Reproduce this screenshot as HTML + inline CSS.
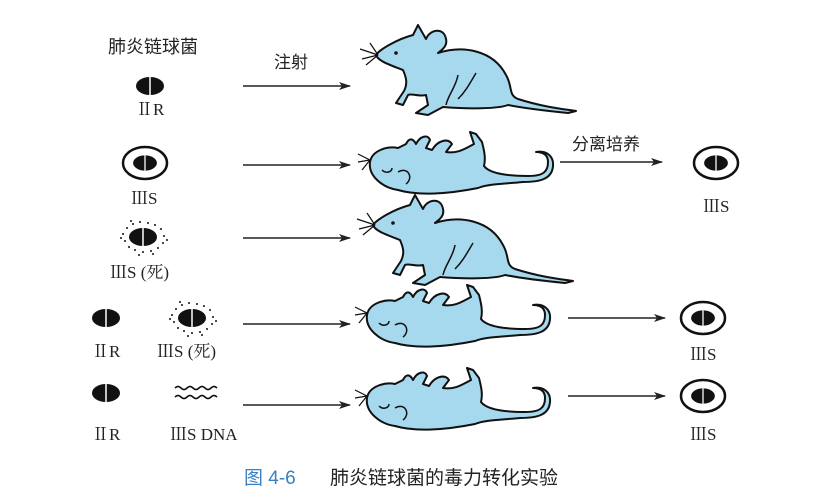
<!DOCTYPE html>
<html><head><meta charset="utf-8"><style>
html,body{margin:0;padding:0;background:#fff;width:820px;height:497px;overflow:hidden}
text{font-family:"Liberation Serif","Noto Serif CJK SC",serif;fill:#222}
.cn{font-family:"Liberation Sans","Noto Sans CJK SC",sans-serif}
</style></head><body>
<svg width="820" height="497" viewBox="0 0 820 497" xmlns="http://www.w3.org/2000/svg">
<defs>
<marker id="ah" markerWidth="12" markerHeight="8" refX="11" refY="4" orient="auto" markerUnits="userSpaceOnUse">
<path d="M0,0 L12,4 L0,8 L3,4 Z" fill="#222"/></marker>
<g id="bac"><ellipse cx="0" cy="0" rx="14" ry="9" fill="#111"/><line x1="0" y1="-9" x2="0" y2="9" stroke="#fff" stroke-width="1.5"/></g>
<g id="cap"><ellipse cx="0" cy="0" rx="22" ry="16" fill="#fff" stroke="#111" stroke-width="2.5"/><use href="#bac" transform="scale(0.85)"/></g>
<g id="dot"><use href="#bac"/>
<g fill="#111"><circle cx="-20" cy="-3" r="1"/><circle cx="-18" cy="4" r="1"/><circle cx="-16" cy="-9" r="1"/><circle cx="-10" cy="-13" r="1"/><circle cx="-3" cy="-15" r="1"/><circle cx="5" cy="-14" r="1"/><circle cx="12" cy="-12" r="1"/><circle cx="18" cy="-8" r="1"/><circle cx="21" cy="-1" r="1"/><circle cx="20" cy="6" r="1"/><circle cx="15" cy="11" r="1"/><circle cx="8" cy="14" r="1"/><circle cx="0" cy="15" r="1"/><circle cx="-8" cy="13" r="1"/><circle cx="-14" cy="10" r="1"/><circle cx="-22" cy="1" r="1"/><circle cx="24" cy="3" r="1"/><circle cx="-12" cy="-16" r="1"/><circle cx="10" cy="17" r="1"/><circle cx="-4" cy="18" r="1"/></g></g>
<g id="live">
<path d="M55,10 L60,0 L68,14 C72,4 86,2 88,14 C90,22 82,26 80,28 C105,20 135,25 148,50 C155,62 150,70 160,74 C185,82 205,84 218,86 L210,88 C190,86 170,84 150,80 C140,84 110,84 85,82 L70,90 L58,88 L70,80 L68,70 C60,72 54,68 50,70 L45,80 L38,78 L46,66 C50,58 48,52 45,45 C32,40 20,36 18,30 C22,24 40,14 55,10 Z" fill="#a6d8ee" stroke="#111" stroke-width="2" stroke-linejoin="round"/>
<g stroke="#111" stroke-width="1.2"><line x1="20" y1="30" x2="2" y2="24"/><line x1="20" y1="30" x2="4" y2="34"/><line x1="20" y1="30" x2="8" y2="40"/><line x1="20" y1="30" x2="12" y2="18"/></g>
<circle cx="38" cy="28" r="1.8" fill="#111"/>
<path d="M100,50 C98,62 90,70 88,80 M118,48 C112,58 108,66 100,74" fill="none" stroke="#111" stroke-width="1.5"/>
</g>
<g id="dead">
<path d="M12,30 C14,18 30,14 40,16 L48,12 C52,4 56,8 58,12 C62,4 70,2 72,8 L68,16 L74,18 C80,8 90,6 94,12 L88,20 C100,22 108,16 116,12 L112,0 L118,2 L124,10 C126,18 128,26 126,34 C132,42 150,44 170,44 C185,44 190,40 190,30 C190,22 184,20 178,20 C188,18 196,24 195,34 C194,48 180,50 165,50 C145,52 130,52 120,56 C90,62 60,64 40,58 C25,56 10,44 12,30 Z" fill="#a6d8ee" stroke="#111" stroke-width="2" stroke-linejoin="round"/>
<g stroke="#111" stroke-width="1.2"><line x1="12" y1="28" x2="0" y2="22"/><line x1="12" y1="28" x2="0" y2="30"/><line x1="12" y1="28" x2="4" y2="38"/></g>
<path d="M40,40 C50,34 56,46 48,52 M24,38 C28,42 34,40 34,36" fill="none" stroke="#111" stroke-width="1.5"/>
</g>
</defs>

<text x="108" y="53" font-size="18" class="cn">肺炎链球菌</text>

<!-- row 1 -->
<use href="#bac" x="150" y="86"/>
<text x="136" y="115" font-size="17">ⅡR</text>
<text x="274" y="68" font-size="17" class="cn">注射</text>
<line x1="243" y1="86" x2="350" y2="86" stroke="#222" stroke-width="1.5" marker-end="url(#ah)"/>
<use href="#live" transform="translate(358,25)"/>

<!-- row 2 -->
<use href="#cap" x="145" y="163"/>
<text x="131" y="204" font-size="17">ⅢS</text>
<line x1="243" y1="165" x2="350" y2="165" stroke="#222" stroke-width="1.5" marker-end="url(#ah)"/>
<use href="#dead" transform="translate(358,132)"/>
<text x="572" y="150" font-size="17" class="cn">分离培养</text>
<line x1="560" y1="162" x2="662" y2="162" stroke="#222" stroke-width="1.5" marker-end="url(#ah)"/>
<use href="#cap" x="716" y="163"/>
<text x="703" y="212" font-size="17">ⅢS</text>

<!-- row 3 -->
<use href="#dot" x="143" y="237"/>
<text x="110" y="278" font-size="17">ⅢS (死)</text>
<line x1="243" y1="238" x2="350" y2="238" stroke="#222" stroke-width="1.5" marker-end="url(#ah)"/>
<use href="#live" transform="translate(355,195)"/>

<!-- row 4 -->
<use href="#bac" x="106" y="318"/>
<use href="#dot" x="192" y="318"/>
<text x="92" y="357" font-size="17">ⅡR</text>
<text x="157" y="357" font-size="17">ⅢS (死)</text>
<line x1="243" y1="324" x2="350" y2="324" stroke="#222" stroke-width="1.5" marker-end="url(#ah)"/>
<use href="#dead" transform="translate(355,285)"/>
<line x1="568" y1="318" x2="665" y2="318" stroke="#222" stroke-width="1.5" marker-end="url(#ah)"/>
<use href="#cap" x="703" y="318"/>
<text x="690" y="360" font-size="17">ⅢS</text>

<!-- row 5 -->
<use href="#bac" x="106" y="393"/>
<path d="M175,388 q3,-3 6,0 t6,0 t6,0 t6,0 t6,0 t6,0 t6,0 M175,397 q3,-3 6,0 t6,0 t6,0 t6,0 t6,0 t6,0 t6,0" fill="none" stroke="#111" stroke-width="1.6"/>
<text x="92" y="440" font-size="17">ⅡR</text>
<text x="170" y="440" font-size="17">ⅢS DNA</text>
<line x1="243" y1="405" x2="350" y2="405" stroke="#222" stroke-width="1.5" marker-end="url(#ah)"/>
<use href="#dead" transform="translate(355,368)"/>
<line x1="568" y1="396" x2="665" y2="396" stroke="#222" stroke-width="1.5" marker-end="url(#ah)"/>
<use href="#cap" x="703" y="396"/>
<text x="690" y="440" font-size="17">ⅢS</text>

<text x="244" y="484" font-size="19" class="cn" style="fill:#3a80c4">图 4-6</text>
<text x="330" y="484" font-size="19" class="cn">肺炎链球菌的毒力转化实验</text>
</svg>
</body></html>
